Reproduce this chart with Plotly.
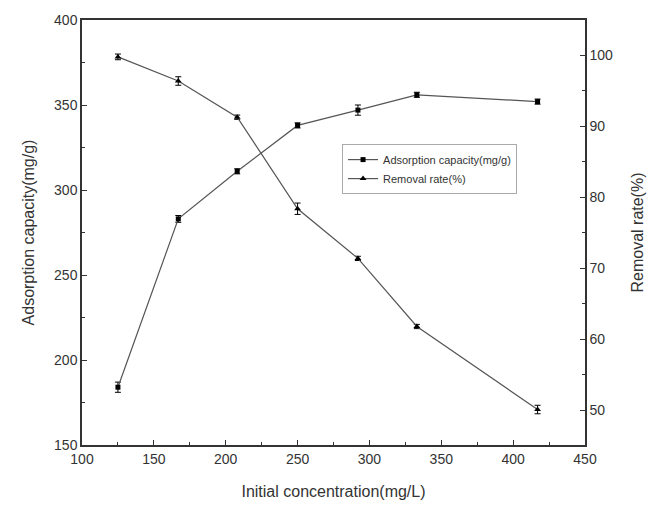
import plotly.graph_objects as go

conc = [125, 167, 208, 250, 292, 333, 417]
adsorption = [184, 283, 311, 338, 347, 356, 352]
adsorption_err = [3, 2, 1.5, 1.5, 3, 1.5, 1.5]
removal = [99.8, 96.4, 91.3, 78.4, 71.4, 61.8, 50.1]
removal_err = [0.4, 0.6, 0.3, 0.8, 0.3, 0.3, 0.6]

font = "Liberation Sans, Arial, sans-serif"
fig = go.Figure()
fig.add_trace(go.Scatter(
    x=conc, y=adsorption, mode="lines+markers", name="Adsorption capacity(mg/g)",
    line=dict(color="#555555", width=1.2),
    marker=dict(symbol="square", size=5, color="black"),
    error_y=dict(type="data", array=adsorption_err, color="black", thickness=1, width=3),
))
fig.add_trace(go.Scatter(
    x=conc, y=removal, mode="lines+markers", name="Removal rate(%)", yaxis="y2",
    line=dict(color="#555555", width=1.2),
    marker=dict(symbol="triangle-up", size=6, color="black"),
    error_y=dict(type="data", array=removal_err, color="black", thickness=1, width=3),
))

axis_common = dict(
    showline=True, linecolor="#333333", linewidth=1.5, ticks="inside", ticklen=5,
    tickcolor="#333333", tickwidth=1.2, showgrid=False, zeroline=False,
    tickfont=dict(family=font, size=14, color="#333333"),
)
fig.update_layout(
    width=659, height=511,
    margin=dict(l=82, r=74, t=17, b=66),
    plot_bgcolor="white", paper_bgcolor="white",
    font=dict(family=font, color="#333333"),
    xaxis=dict(range=[100, 450], dtick=50, mirror=True,
               minor=dict(ticks="inside", dtick=25, ticklen=3, tickcolor="#333333"),
               title=dict(text="Initial concentration(mg/L)", font=dict(family=font, size=16, color="#333333"), standoff=20),
               **axis_common),
    yaxis=dict(range=[150, 400], dtick=50,
               minor=dict(ticks="inside", dtick=25, ticklen=3, tickcolor="#333333"),
               title=dict(text="Adsorption capacity(mg/g)", font=dict(family=font, size=16, color="#333333"), standoff=15),
               **axis_common),
    yaxis2=dict(range=[45.1, 105], dtick=10, overlaying="y", side="right",
                minor=dict(ticks="inside", dtick=5, ticklen=3, tickcolor="#333333"),
                title=dict(text="Removal rate(%)", font=dict(family=font, size=16, color="#333333"), standoff=20),
                **axis_common),
    showlegend=True,
    legend=dict(x=0.517, y=0.708, xanchor="left", yanchor="top",
                bgcolor="white", bordercolor="#aaaaaa", borderwidth=1,
                font=dict(family=font, size=11, color="#333333"),
                tracegroupgap=0, itemwidth=30),
)
fig.write_html("out.html")
